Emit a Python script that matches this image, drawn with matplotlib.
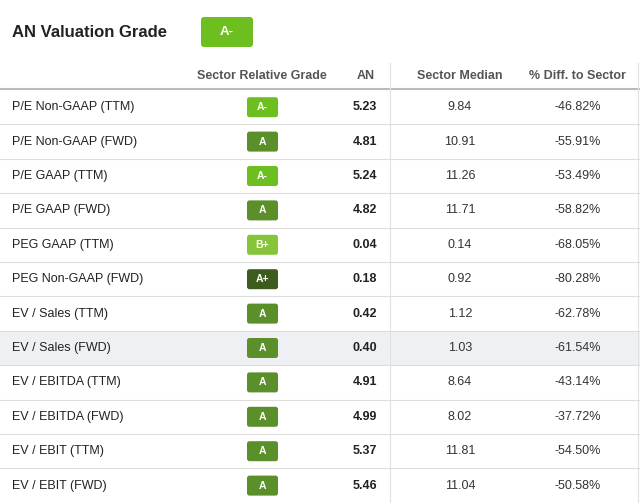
import matplotlib.pyplot as plt
from matplotlib.patches import FancyBboxPatch, Rectangle

# Data
metrics = ["P/E Non-GAAP (TTM)", "P/E Non-GAAP (FWD)", "P/E GAAP (TTM)", "P/E GAAP (FWD)",
           "PEG GAAP (TTM)", "PEG Non-GAAP (FWD)", "EV / Sales (TTM)", "EV / Sales (FWD)",
           "EV / EBITDA (TTM)", "EV / EBITDA (FWD)", "EV / EBIT (TTM)", "EV / EBIT (FWD)"]
grades = ["A-", "A", "A-", "A", "B+", "A+", "A", "A", "A", "A", "A", "A"]
an_values = ["5.23", "4.81", "5.24", "4.82", "0.04", "0.18", "0.42", "0.40", "4.91", "4.99", "5.37", "5.46"]
sector_median = ["9.84", "10.91", "11.26", "11.71", "0.14", "0.92", "1.12", "1.03", "8.64", "8.02", "11.81", "11.04"]
pct_diff = ["-46.82%", "-55.91%", "-53.49%", "-58.82%", "-68.05%", "-80.28%",
            "-62.78%", "-61.54%", "-43.14%", "-37.72%", "-54.50%", "-50.58%"]
headers = ["Sector Relative Grade", "AN", "Sector Median", "% Diff. to Sector"]

grade_colors = {"A-": "#6cbf1e", "A": "#5a8f29", "B+": "#86c43a", "A+": "#3b5c1c"}

fig = plt.figure(figsize=(6.4, 5.03), dpi=100)
ax = fig.add_axes([0, 0, 1, 1])
ax.set_xlim(0, 640)
ax.set_ylim(503, 0)
ax.axis("off")

font = "Liberation Sans"

# Title + badge
ax.text(12, 32, "AN Valuation Grade", fontsize=12, fontweight="bold", va="center", family=font, color="#222222")
ax.add_patch(FancyBboxPatch((201, 17), 52, 30, boxstyle="round,pad=0,rounding_size=3",
                            fc=grade_colors["A-"], ec="none"))
ax.text(227, 32, "A-", fontsize=9.5, color="white", fontweight="bold", ha="center", va="center", family=font)

# Header
header_x = [262, 366, 460, 577]
for x, h in zip(header_x, headers):
    ax.text(x, 76, h, fontsize=9, fontweight="semibold", ha="center", va="center", family=font, color="#555555")
ax.plot([0, 640], [89, 89], color="#bbbbbb", lw=1.5)
ax.plot([390, 390], [63, 503], color="#e2e2e2", lw=0.8)
ax.plot([638, 638], [63, 503], color="#e2e2e2", lw=0.8)

row_h = 34.4
top = 90
for i in range(len(metrics)):
    yc = top + row_h * i + row_h / 2
    if i == 7:
        ax.add_patch(Rectangle((0, top + row_h * i), 640, row_h, fc="#eef0f4", ec="none", zorder=0))
    ax.text(12, yc, metrics[i], fontsize=9, va="center", family=font, color="#222222")
    ax.add_patch(FancyBboxPatch((247, yc - 10), 31, 20, boxstyle="round,pad=0,rounding_size=2.5",
                                fc=grade_colors[grades[i]], ec="none"))
    ax.text(262.5, yc, grades[i], fontsize=7.5, color="white", fontweight="bold",
            ha="center", va="center", family=font)
    ax.text(377, yc, an_values[i], fontsize=9, fontweight="bold", ha="right", va="center",
            family=font, color="#222222")
    ax.text(460, yc, sector_median[i], fontsize=9, ha="center", va="center", family=font, color="#333333")
    ax.text(601, yc, pct_diff[i], fontsize=9, ha="right", va="center", family=font, color="#333333")
    if i > 0:
        ax.plot([0, 640], [top + row_h * i] * 2, color="#dddddd", lw=0.8)

fig.savefig("out.png", dpi=100)
